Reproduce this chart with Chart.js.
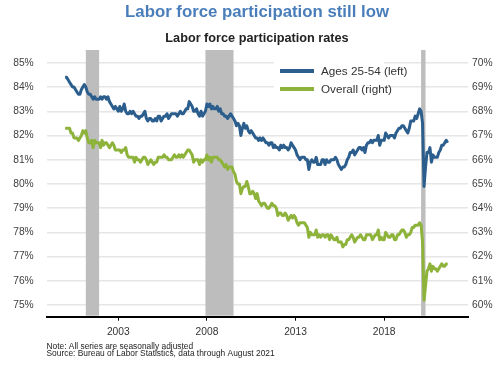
<!DOCTYPE html>
<html><head><meta charset="utf-8">
<script src="https://cdn.jsdelivr.net/npm/chart.js@4"></script>
<style>html,body{margin:0;padding:0;background:#fff}#wrap{width:500px;height:365px;position:relative}</style>
</head><body><div id="wrap"><canvas id="c" width="500" height="365"></canvas></div>
<script>
// Monthly data, Jan 2000 - Aug 2021
const startYear = 2000;
const primeAge = [
84.4,84.4,84.3,84.2,84.1,84.0,84.0,83.9,83.8,83.7,83.7,83.9,
84.0,84.1,84.0,83.8,83.7,83.7,83.6,83.5,83.6,83.5,83.5,83.5,
83.6,83.5,83.6,83.6,83.5,83.6,83.4,83.3,83.2,83.1,83.2,83.1,
83.0,83.2,83.0,83.1,83.3,83.0,82.9,82.9,83.0,82.9,83.0,82.9,
82.8,82.8,82.7,82.8,82.8,82.9,83.0,82.7,82.6,82.7,82.7,82.6,
82.6,82.7,82.6,82.8,82.8,82.6,82.7,82.8,82.8,82.9,82.7,82.8,
82.9,82.9,82.9,82.9,82.8,82.9,83.0,82.9,82.9,83.0,83.1,83.1,
83.4,83.3,83.2,83.0,83.0,83.1,82.9,82.8,83.0,82.8,82.9,83.0,
83.3,83.2,83.3,83.1,83.2,83.1,83.1,83.2,83.0,83.1,82.9,82.9,
82.8,82.8,82.7,82.8,82.9,82.8,82.7,82.6,82.4,82.5,82.4,82.0,
82.3,82.5,82.3,82.4,82.2,82.1,82.2,82.1,82.0,81.9,81.9,81.8,
81.9,81.8,81.9,81.8,81.7,81.7,81.6,81.7,81.7,81.5,81.6,81.5,
81.5,81.4,81.6,81.5,81.6,81.5,81.5,81.4,81.5,81.7,81.6,81.5,
81.4,81.2,81.1,81.0,81.1,81.1,81.1,81.0,81.0,80.6,80.9,81.0,
80.9,80.9,81.1,80.8,80.8,80.8,81.0,81.0,80.8,81.0,80.9,80.9,
81.0,81.0,81.0,81.1,81.0,80.8,80.7,80.6,80.7,80.7,80.8,81.0,
81.1,81.3,81.3,81.4,81.2,81.3,81.4,81.5,81.5,81.4,81.5,81.3,
81.6,81.7,81.7,81.8,81.7,81.8,81.8,81.8,82.0,81.6,81.8,81.8,
81.8,82.1,82.0,81.9,82.0,82.0,82.0,81.9,82.1,82.2,82.3,82.3,
82.4,82.4,82.3,82.2,82.1,82.3,82.6,82.6,82.6,82.8,82.7,82.9,
83.1,83.0,82.5,79.9,80.7,81.3,81.3,81.5,80.9,81.2,81.1,81.1,
81.1,81.3,81.4,81.6,81.6,81.7,81.8,81.7];
const overall = [
67.3,67.3,67.3,67.3,67.1,67.1,66.9,66.9,66.9,66.8,66.9,67.0,
67.2,67.1,67.2,66.9,66.7,66.7,66.8,66.5,66.8,66.7,66.7,66.7,
66.5,66.8,66.6,66.7,66.7,66.6,66.5,66.6,66.7,66.6,66.4,66.4,
66.4,66.4,66.3,66.4,66.4,66.5,66.2,66.1,66.1,66.1,66.1,65.9,
66.1,66.0,66.0,65.9,66.0,66.1,66.1,66.0,65.8,65.9,66.0,65.9,
65.8,65.9,65.9,66.1,66.1,66.1,66.1,66.2,66.1,66.1,66.0,66.0,
66.0,66.1,66.2,66.1,66.1,66.2,66.1,66.2,66.1,66.2,66.3,66.4,
66.4,66.3,66.2,65.9,66.0,66.0,66.0,65.8,66.0,65.9,66.0,66.0,
66.2,66.0,66.1,65.9,66.1,66.1,66.1,66.1,66.0,66.0,65.9,65.8,
65.7,65.8,65.6,65.7,65.7,65.7,65.5,65.4,65.1,65.0,65.0,64.6,
64.8,64.9,64.9,65.1,64.9,64.6,64.6,64.7,64.6,64.4,64.6,64.3,
64.2,64.1,64.2,64.2,64.1,64.0,64.0,64.1,64.2,64.1,64.1,64.0,
63.7,63.8,63.8,63.7,63.7,63.8,63.7,63.5,63.6,63.7,63.6,63.7,
63.6,63.4,63.3,63.4,63.4,63.4,63.4,63.3,63.2,62.8,63.0,62.9,
62.9,62.9,63.1,62.8,62.9,62.8,62.9,62.9,62.8,62.9,62.9,62.7,
62.9,62.8,62.7,62.7,62.8,62.6,62.6,62.6,62.4,62.5,62.5,62.7,
62.7,62.8,62.9,62.8,62.6,62.7,62.8,62.8,62.9,62.8,62.7,62.7,
62.9,62.9,62.9,62.9,62.7,62.8,62.9,62.9,63.1,62.7,62.8,62.7,
62.7,63.0,62.9,62.8,62.8,62.9,62.9,62.7,62.7,62.9,62.9,63.0,
63.1,63.1,63.0,62.8,62.9,62.9,63.0,63.2,63.2,63.3,63.3,63.3,
63.4,63.3,62.6,60.2,60.8,61.4,61.5,61.7,61.4,61.6,61.5,61.5,
61.4,61.5,61.6,61.7,61.6,61.6,61.7,61.7];
const dates = primeAge.map((_, i) => startYear + i / 12);
const xTickYears = [2003, 2008, 2013, 2018];
const leftTicks = [75, 76, 77, 78, 79, 80, 81, 82, 83, 84, 85];
const rightTicks = [60, 61, 62, 63, 64, 65, 66, 67, 68, 69, 70];
const recessions = [[2001 + 2/12, 2001 + 11/12], [2007 + 11/12, 2009 + 6/12], [2020 + 1/12, 2020 + 4/12]];
const seriesNames = ['Ages 25-54 (left)', 'Overall (right)'];
const titleText = 'Labor force participation still low';
const subtitleText = 'Labor force participation rates';
const noteLines = ['Note: All series are seasonally adjusted', 'Source: Bureau of Labor Statistics, data through August 2021'];

const FONT = '"Liberation Sans", Arial, Helvetica, sans-serif';
const BLUE = '#2c5e8d', GREEN = '#8db33a';

const recessionPlugin = {
  id: 'recessions',
  beforeDatasetsDraw(chart) {
    const {ctx, chartArea: a, scales: {x}} = chart;
    ctx.save();
    ctx.fillStyle = '#bdbdbd';
    recessions.forEach(([s, e]) => {
      const x0 = x.getPixelForValue(s), x1 = x.getPixelForValue(e);
      ctx.fillRect(x0, a.top, x1 - x0, a.bottom - a.top - 1);
    });
    ctx.restore();
  }
};
const legendPlugin = {
  id: 'insideLegend',
  afterDatasetsDraw(chart) {
    const ctx = chart.ctx;
    ctx.save();
    ctx.fillStyle = '#fff';
    ctx.fillRect(274, 60, 110, 38);
    const rows = [[71, 0], [89, 1]];
    rows.forEach(([y, i]) => {
      const ds = chart.data.datasets[i];
      ctx.strokeStyle = ds.borderColor; ctx.lineWidth = 4; ctx.lineCap = 'butt';
      ctx.beginPath(); ctx.moveTo(280, y); ctx.lineTo(314, y); ctx.stroke();
      ctx.fillStyle = '#333'; ctx.font = '11.7px ' + FONT; ctx.textBaseline = 'middle'; ctx.textAlign = 'left';
      ctx.fillText(ds.label, 321, y + 0.5);
    });
    ctx.restore();
  }
};
const textPlugin = {
  id: 'texts',
  afterDraw(chart) {
    const ctx = chart.ctx;
    ctx.save();
    ctx.textAlign = 'center'; ctx.textBaseline = 'alphabetic';
    ctx.fillStyle = '#4a7ebb'; ctx.font = 'bold 16.8px ' + FONT;
    ctx.fillText(titleText, 257, 16.8);
    ctx.fillStyle = '#222'; ctx.font = 'bold 12.7px ' + FONT;
    ctx.fillText(subtitleText, 257, 42);
    ctx.textAlign = 'left'; ctx.fillStyle = '#222'; ctx.font = '8.4px ' + FONT;
    ctx.fillText(noteLines[0], 46.5, 348.6);
    ctx.fillText(noteLines[1], 46.5, 355.8);
    ctx.restore();
  }
};

const tickFont = {family: FONT, size: 10.25};
new Chart(document.getElementById('c'), {
  type: 'line',
  data: {
    datasets: [
      {label: seriesNames[0], data: dates.map((d, i) => ({x: d, y: primeAge[i]})), yAxisID: 'yL',
       borderColor: BLUE, borderWidth: 3, pointRadius: 0, tension: 0, borderJoinStyle: 'round'},
      {label: seriesNames[1], data: dates.map((d, i) => ({x: d, y: overall[i]})), yAxisID: 'yR',
       borderColor: GREEN, borderWidth: 3, pointRadius: 0, tension: 0, borderJoinStyle: 'round'}
    ]
  },
  options: {
    responsive: false, animation: false, devicePixelRatio: 1,
    layout: {padding: {top: 50, left: 0, right: 0, bottom: 0}},
    plugins: {legend: {display: false}, tooltip: {enabled: false}, title: {display: false}},
    scales: {
      x: {
        type: 'linear', min: 1998.96, max: 2022.73,
        afterBuildTicks: s => { s.ticks = xTickYears.map(v => ({value: v})); },
        afterFit: s => { s.height = 48.3; },
        ticks: {callback: v => String(v), font: tickFont, color: '#333', padding: 5, maxRotation: 0, autoSkip: false},
        grid: {drawOnChartArea: false, drawTicks: true, tickLength: 4, color: '#000', lineWidth: 1},
        border: {display: true, color: '#000', width: 2}
      },
      yL: {
        position: 'left', min: 74.52, max: 85.53,
        afterBuildTicks: s => { s.ticks = leftTicks.map(v => ({value: v})); },
        afterFit: s => { s.width = 46.7; },
        ticks: {callback: v => v + '%', font: tickFont, color: '#404040', padding: 13},
        grid: {color: '#e6e6e6', lineWidth: 1.5, drawTicks: false},
        border: {display: false}
      },
      yR: {
        position: 'right', min: 59.52, max: 70.53,
        afterBuildTicks: s => { s.ticks = rightTicks.map(v => ({value: v})); },
        afterFit: s => { s.width = 32; },
        ticks: {callback: v => v + '%', font: tickFont, color: '#404040', padding: 4},
        grid: {drawOnChartArea: false, drawTicks: false},
        border: {display: false}
      }
    }
  },
  plugins: [recessionPlugin, legendPlugin, textPlugin]
});
</script></body></html>
